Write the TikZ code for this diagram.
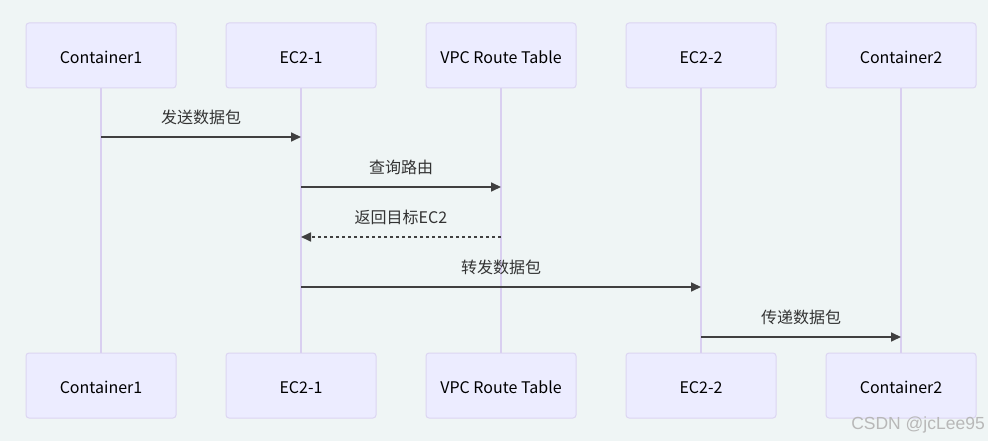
\documentclass[tikz,border=0pt]{standalone}
\usepackage{fontspec}
\setmainfont{Noto Sans CJK SC}
\newfontfamily\wmfont{Liberation Sans}
\usepackage{xcolor}
\definecolor{bgc}{HTML}{EFF5F5}
\definecolor{actfill}{HTML}{ECECFF}
\definecolor{actline}{HTML}{DCD5F2}
\definecolor{lifec}{HTML}{D9CFF0}
\definecolor{msgc}{HTML}{404040}
\usetikzlibrary{arrows.meta,positioning}

\begin{document}
\begin{tikzpicture}[
  x=1pt,
  y=-1pt,
  actor/.style={draw=actline, fill=actfill, line width=1pt, rounded corners=3pt,
    minimum width=150pt, minimum height=65pt, inner sep=0pt,
    text height=16.5pt, text depth=0pt, font=\fontsize{16}{19}\selectfont, text=black},
  life/.style={lifec, line width=2pt},
  msg/.style={msgc, line width=1.7pt, -{Triangle[length=10pt,width=9pt]}},
  ret/.style={msg, dash pattern=on 3pt off 3pt},
  lbl/.style={font=\fontsize{16}{19}\selectfont, text=black!80},
]

% Background and frame
\fill[bgc] (0,0) rectangle (988,441);
\useasboundingbox (0,0) rectangle (988,441);

% Participants (top)
\node[actor] (c1t) at (101,55.5) {Container1};
\node[actor] (e1t) at (301,55.5) {EC2-1};
\node[actor] (vt)  at (501,55.5) {VPC Route Table};
\node[actor] (e2t) at (701,55.5) {EC2-2};
\node[actor] (c2t) at (901,55.5) {Container2};

% Participants (bottom)
\node[actor] (c1b) at (101,385.5) {Container1};
\node[actor] (e1b) at (301,385.5) {EC2-1};
\node[actor] (vb)  at (501,385.5) {VPC Route Table};
\node[actor] (e2b) at (701,385.5) {EC2-2};
\node[actor] (c2b) at (901,385.5) {Container2};

% Lifelines
\foreach \a/\b in {c1t/c1b,e1t/e1b,vt/vb,e2t/e2b,c2t/c2b}
  \draw[life] (\a.south) -- (\b.north);

% Message rows
\coordinate (r1) at (0,137);
\coordinate (r2) at (0,187);
\coordinate (r3) at (0,237);
\coordinate (r4) at (0,287);
\coordinate (r5) at (0,337);

% Messages
\draw[msg] (c1t |- r1) -- (e1t |- r1) node[lbl, midway, yshift=20pt] {发送数据包};
\draw[msg] (e1t |- r2) -- (vt |- r2)  node[lbl, midway, yshift=20pt] {查询路由};
\draw[ret] (vt |- r3) -- (e1t |- r3)  node[lbl, midway, yshift=20pt] {返回目标EC2};
\draw[msg] (e1t |- r4) -- (e2t |- r4) node[lbl, midway, yshift=20pt] {转发数据包};
\draw[msg] (e2t |- r5) -- (c2t |- r5) node[lbl, midway, yshift=20pt] {传递数据包};

% Watermark
\node[text=black!28, font=\wmfont\fontsize{17.5}{20}\selectfont, anchor=east, inner sep=0pt] (wm) at (985,425) {CSDN @jcLee95};

\end{tikzpicture}
\end{document}
